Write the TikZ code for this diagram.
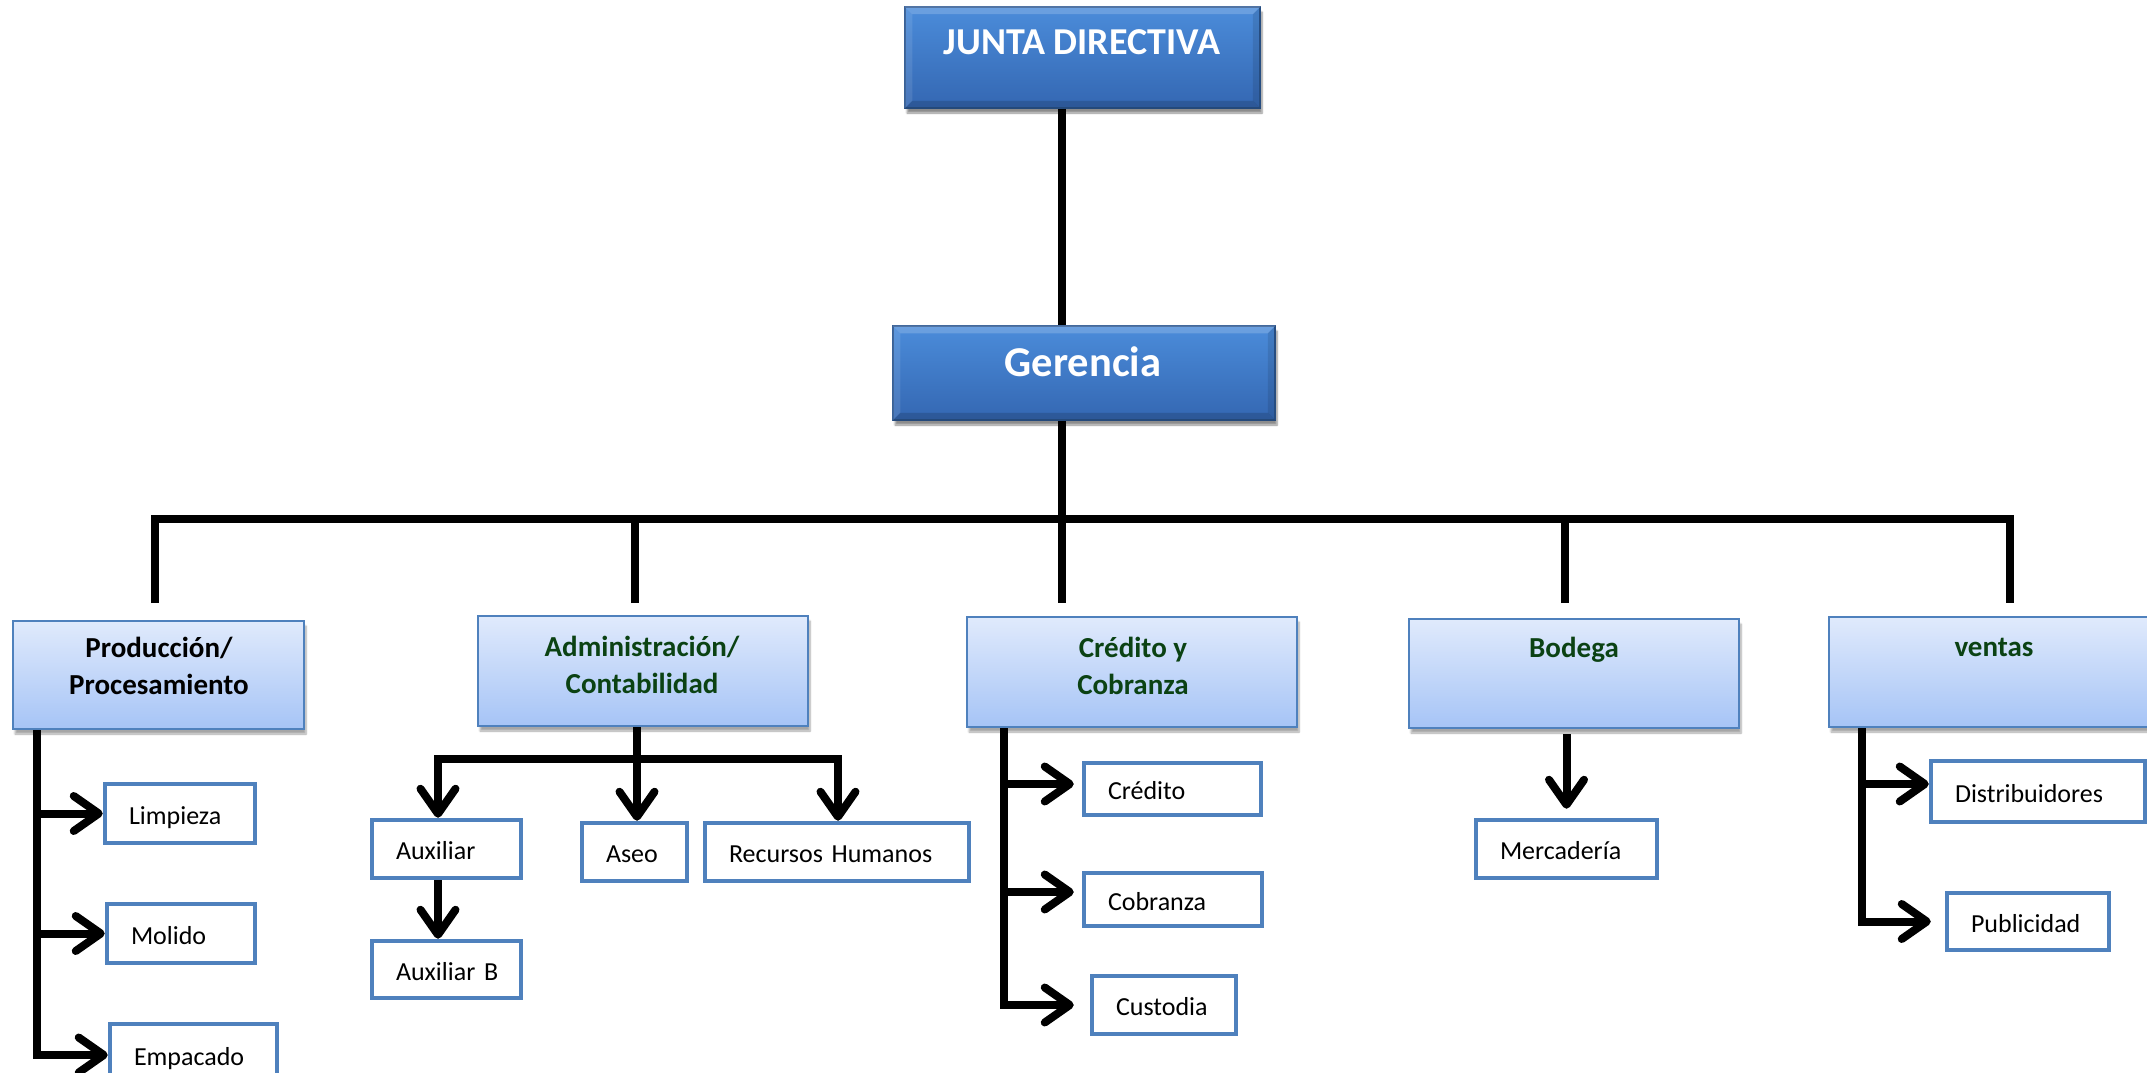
\documentclass[tikz,border=0pt]{standalone}
\usepackage{fontspec}
\setmainfont{Carlito}
\usetikzlibrary{arrows.meta,shadows.blur,calc}
\definecolor{topA}{HTML}{4B8CDA}
\definecolor{topB}{HTML}{3467B2}
\definecolor{topEdge}{HTML}{2B5690}
\definecolor{midA}{HTML}{E0EAFC}
\definecolor{midB}{HTML}{A6C4F6}
\definecolor{boxBorder}{HTML}{4F81BD}
\definecolor{darkgreen}{HTML}{0B4213}
\begin{document}
\begin{tikzpicture}[x=1pt,y=-1pt,
  topbox/.style={draw=topEdge, line width=1.5pt, top color=topA, bottom color=topB, inner sep=0pt,
     blur shadow={shadow xshift=2pt, shadow yshift=-5pt, shadow opacity=45, shadow blur steps=6}},
  toptext/.style={text=white, font=\bfseries\fontsize{38}{44}\selectfont},
  midbox/.style={draw=boxBorder, line width=2.5pt, top color=midA, bottom color=midB, inner sep=0pt,
     blur shadow={shadow xshift=2pt, shadow yshift=-5pt, shadow opacity=35, shadow blur steps=6}},
  midtext/.style={align=center, inner sep=0pt, font=\bfseries\fontsize{29}{37}\selectfont},
  leaf/.style={draw=boxBorder, line width=4.5pt, fill=white, inner xsep=24pt, inner ysep=0pt,
     align=left, text height=22pt, text depth=1pt, font=\fontsize{26}{31}\selectfont},
  conn/.style={line width=8pt},
  arr/.style={line width=8pt, -{Straight Barb[length=25pt,width=35pt,round]}}
]
\useasboundingbox (0,0) rectangle (2147,1073);
\clip (0,0) rectangle (2147,1073);

% ---- top boxes
\node[topbox, minimum width=355pt, minimum height=101pt] (jd) at (1082.5,57.5) {};
\node[toptext, anchor=base] (jdT) at (1082,55) {JUNTA DIRECTIVA};
\node[topbox, minimum width=382pt, minimum height=94pt] (ger) at (1084,373) {};
\node[toptext, anchor=base, font=\bfseries\fontsize{42.5}{50}\selectfont] (gerT) at (1083,376.7) {Gerencia};
% bevels
\foreach \b in {jd,ger}{
  \fill[white, opacity=0.18] (\b.north west) -- (\b.north east) -- ([shift={(-8,8)}]\b.north east) -- ([shift={(8,8)}]\b.north west) -- cycle;
  \fill[white, opacity=0.10] (\b.north west) -- ([shift={(8,8)}]\b.north west) -- ([shift={(8,-8)}]\b.south west) -- (\b.south west) -- cycle;
  \fill[black, opacity=0.15] (\b.south west) -- (\b.south east) -- ([shift={(-8,-8)}]\b.south east) -- ([shift={(8,-8)}]\b.south west) -- cycle;
  \fill[black, opacity=0.10] (\b.north east) -- ([shift={(-8,8)}]\b.north east) -- ([shift={(-8,-8)}]\b.south east) -- (\b.south east) -- cycle;
}

% ---- second level
\node[midbox, minimum width=291pt, minimum height=108pt] (prod) at (158.5,675) {};
\node[midbox, minimum width=330pt, minimum height=110pt] (adm) at (643,671) {};
\node[midbox, minimum width=330pt, minimum height=110pt] (cyc) at (1132,672) {};
\node[midbox, minimum width=330pt, minimum height=109pt] (bod) at (1574,673.5) {};
\node[midbox, minimum width=331pt, minimum height=110pt] (ven) at (1994.5,672) {};
\node[midtext] (prodT) at (159,669) {\strut Producción/\\\strut Procesamiento};
\node[midtext, text=darkgreen] (admT) at (642,668) {\strut Administración/\\\strut Contabilidad};
\node[midtext, text=darkgreen] (cycT) at (1133,669) {\strut Crédito y\\\strut Cobranza};
\node[midtext, text=darkgreen] (bodT) at (1574,669) {\strut Bodega\\\strut};
\node[midtext, text=darkgreen] (venT) at (1994,668) {\strut ventas\\\strut};

% ---- leaves
\node[leaf, text width=102pt, minimum height=59pt] (limp) at (180,813.5) {Limpieza};
\node[leaf, text width=100pt, minimum height=59pt] (mol) at (181,933.5) {Molido};
\node[leaf, text width=119pt, minimum height=62pt] (emp) at (193.5,1055) {Empacado};
\node[leaf, text width=101pt, minimum height=58pt] (aux) at (446.5,849) {Auxiliar};
\node[leaf, text width=101pt, minimum height=57pt] (auxb) at (446.5,969.5) {\mbox{Auxiliar B}};
\node[leaf, text width=57pt, minimum height=58pt] (aseo) at (634.5,852) {Aseo};
\node[leaf, text width=216pt, minimum height=58pt] (rrhh) at (837,852) {\mbox{Recursos Humanos}};
\node[leaf, text width=129pt, minimum height=52pt] (cred) at (1172.5,789) {Crédito};
\node[leaf, text width=130pt, minimum height=53pt] (cobr) at (1173,899.5) {Cobranza};
\node[leaf, text width=96pt, minimum height=58pt] (cust) at (1164,1005) {Custodia};
\node[leaf, text width=133pt, minimum height=58pt] (merc) at (1566.5,849) {Mercadería};
\node[leaf, text width=166pt, minimum height=61pt] (dist) at (2038,791.5) {Distribuidores};
\node[leaf, text width=114pt, minimum height=57pt] (publ) at (2028,921.5) {Publicidad};

% ---- main connectors
\coordinate (b0) at (1062,519);
\coordinate (dP) at (155,603);
\coordinate (dA) at (635,603);
\coordinate (dC) at (1062,603);
\coordinate (dB) at (1565,603);
\coordinate (dV) at (2010,603);
\draw[conn] (jd.south -| b0) -- (ger.north -| b0);
\draw[conn] (ger.south -| b0) -- (dC);
\draw[conn] (dP) |- (b0) -| (dV);
\draw[conn] (dA) -- (dA |- b0);
\draw[conn] (dB) -- (dB |- b0);

% ---- Produccion
\coordinate (pS) at (37,729);
\draw[arr] (prod.south -| pS) |- (emp.west);
\draw[arr] (pS |- limp.west) -- (limp.west);
\draw[arr] (pS |- mol.west) -- (mol.west);

% ---- Administracion
\coordinate (aS) at (637,759);
\coordinate (aL) at (438,759);
\coordinate (aR) at (838,759);
\draw[arr] (adm.south -| aS) -- (aS |- aseo.north);
\draw[arr] (aS) -| (aL |- aux.north);
\draw[arr] (aS) -| (aR |- rrhh.north);
\draw[arr] (aux.south -| aL) -- (auxb.north -| aL);

% ---- Credito
\coordinate (cS) at (1004,727);
\draw[arr, shorten >=16pt] (cyc.south -| cS) |- (cust.west);
\draw[arr, shorten >=8pt] ([yshift=5pt]cS |- cred.west) -- ([yshift=5pt]cred.west);
\draw[arr, shorten >=8pt] ([yshift=7.5pt]cS |- cobr.west) -- ([yshift=7.5pt]cobr.west);

% ---- Bodega
\draw[arr, shorten <=5pt, shorten >=9pt] (bod.south -| merc.north) -- (merc.north);

% ---- Ventas
\coordinate (vS) at (1862,727);
\draw[arr, shorten >=14pt] (ven.south -| vS) |- (publ.west);
\draw[arr] ([yshift=7.5pt]vS |- dist.west) -- ([yshift=7.5pt]dist.west);
\end{tikzpicture}
\end{document}
